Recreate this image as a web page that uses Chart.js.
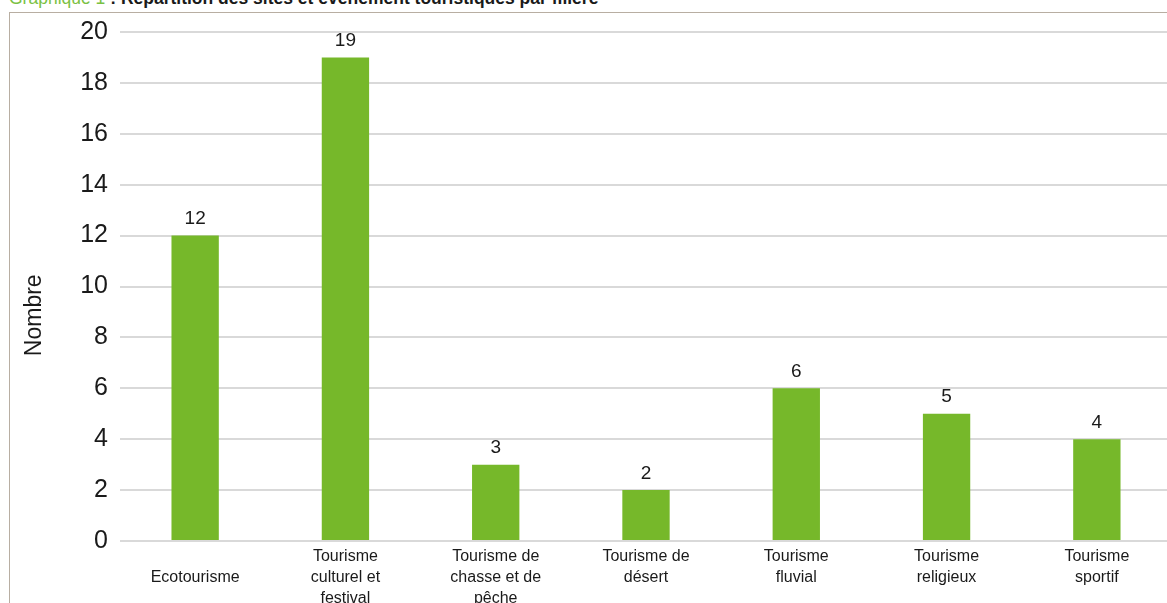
<!DOCTYPE html>
<html>
<head>
<meta charset="utf-8">
<script src="https://cdn.jsdelivr.net/npm/chart.js@4"></script>
<style>
  html, body { margin: 0; padding: 0; background: #fff; overflow: hidden; }
  #wrap { position: relative; width: 1167px; height: 603px; overflow: hidden; }
  #frame { position: absolute; left: 9px; top: 12px; width: 1200px; height: 700px;
           border-left: 1px solid #b8aea2; border-top: 1px solid #b8aea2; }
  #title { position: absolute; left: 9px; top: -12px; font: bold 17.5px "Liberation Sans", sans-serif;
           color: #1a1a1a; white-space: nowrap; }
  #title span { color: #7ac143; font-weight: normal; }
  #box { position: absolute; left: 0; top: 0; width: 1180px; height: 603px; }
</style>
</head>
<body>
<div id="wrap">
  <div id="frame"></div>
  <div id="title"><span>Graphique 1</span> : Répartition des sites et événement touristiques par filière</div>
  <div id="box"><canvas id="bar"></canvas></div>
</div>
<script>
// catégories et valeurs
const categories = [
    ['', 'Ecotourisme'],
    ['Tourisme', 'culturel et', 'festival'],
    ['Tourisme de', 'chasse et de', 'pêche'],
    ['Tourisme de', 'désert'],
    ['Tourisme', 'fluvial'],
    ['Tourisme', 'religieux'],
    ['Tourisme', 'sportif']
];
const values = [12, 19, 3, 2, 6, 5, 4];
const yTicks = [0, 2, 4, 6, 8, 10, 12, 14, 16, 18, 20];

const sans = '"Liberation Sans", Arial, sans-serif';

// étiquettes au-dessus des barres
const valueLabels = {
    id: 'valueLabels',
    afterDatasetsDraw(chart) {
        const ctx = chart.ctx;
        const meta = chart.getDatasetMeta(0);
        ctx.save();
        ctx.font = '19px ' + sans;
        ctx.fillStyle = '#1a1a1a';
        ctx.textAlign = 'center';
        ctx.textBaseline = 'bottom';
        meta.data.forEach((bar, i) => {
            ctx.fillText(values[i], bar.x, bar.y - 7);
        });
        ctx.restore();
    }
};

const ctxBar = document.getElementById('bar').getContext('2d');
new Chart(ctxBar, {
    type: 'bar',
    data: {
        labels: categories,
        datasets: [{
            data: values,
            backgroundColor: '#76b82a',
            borderWidth: 0,
            barPercentage: 0.315,
            categoryPercentage: 1
        }]
    },
    options: {
        responsive: true,
        maintainAspectRatio: false,
        animation: false,
        layout: { padding: { top: 32, right: 8, left: 0, bottom: 0 } },
        plugins: { legend: { display: false }, tooltip: { enabled: false } },
        scales: {
            x: {
                grid: { display: false, drawTicks: false },
                border: { display: false },
                ticks: {
                    color: '#1a1a1a',
                    font: { family: sans, size: 16, lineHeight: 1.32 },
                    padding: 5,
                    maxRotation: 0,
                    autoSkip: false
                },
                afterFit(scale) { scale.height = 62; }
            },
            y: {
                min: 0,
                max: 20,
                afterBuildTicks(scale) { scale.ticks = yTicks.map(v => ({ value: v })); },
                grid: { color: '#d9d9d9', lineWidth: 2, drawTicks: false },
                border: { display: false },
                ticks: {
                    color: '#1a1a1a',
                    font: { family: sans, size: 25 },
                    padding: 12
                },
                title: {
                    display: true,
                    text: 'Nombre         ',
                    color: '#1a1a1a',
                    font: { family: sans, size: 23 },
                    padding: { top: 21, bottom: 0 }
                },
                afterFit(scale) { scale.width = 120; }
            }
        }
    },
    plugins: [valueLabels]
});
</script>
</body>
</html>
